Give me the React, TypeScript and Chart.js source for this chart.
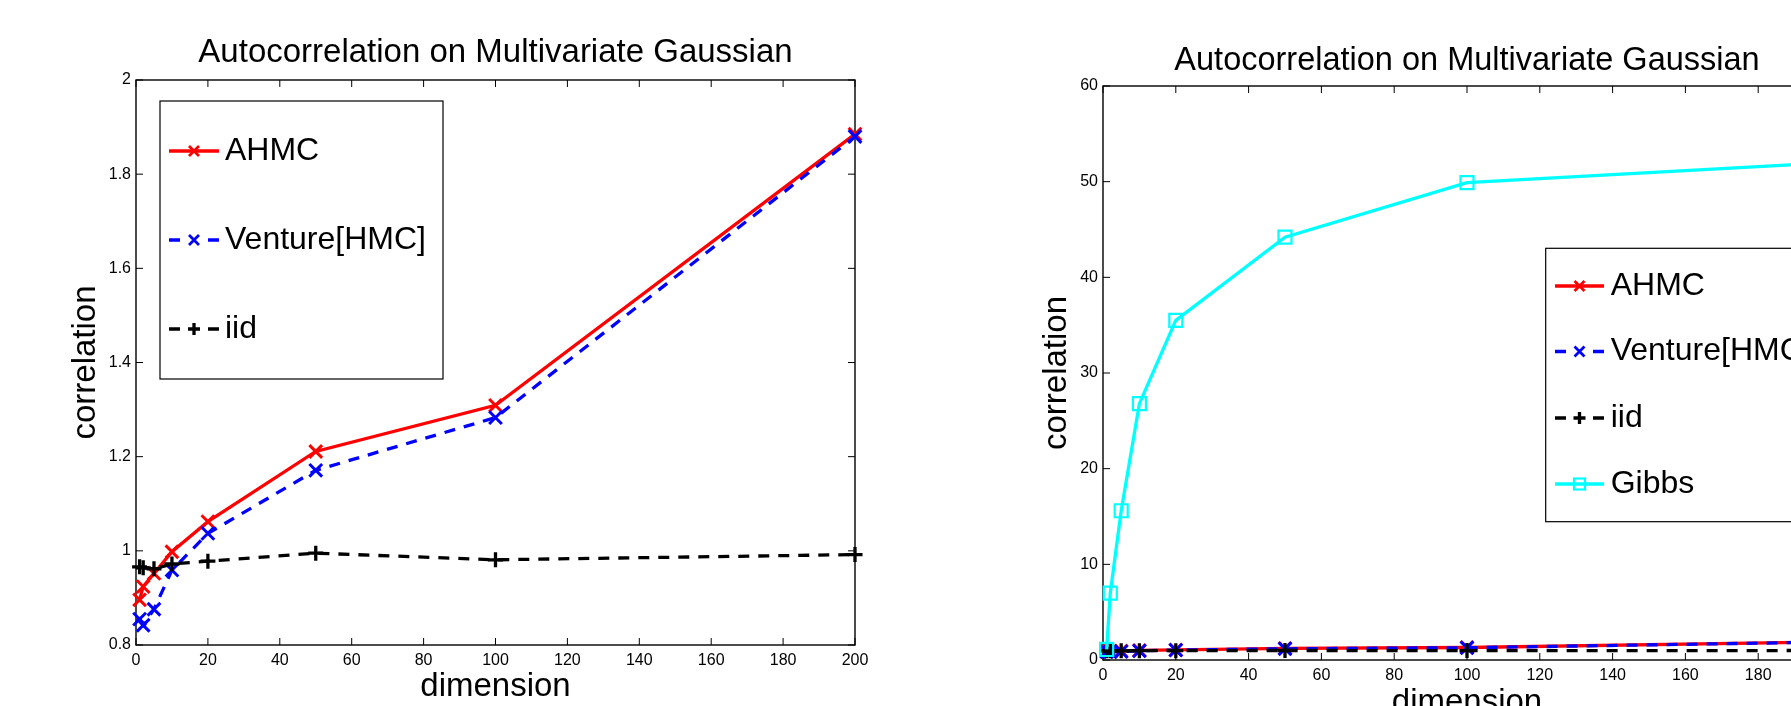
import React, { useEffect, useRef } from 'react';
import { Chart, registerables } from 'chart.js';

Chart.register(...registerables);

const FONT = '"Liberation Sans", Arial, Helvetica, sans-serif';

const dimensions = [1, 2, 5, 10, 20, 50, 100, 200];
const ahmcValues = [0.896, 0.924, 0.952, 0.998, 1.062, 1.211, 1.309, 1.885];
const ventureValues = [0.855, 0.842, 0.876, 0.959, 1.037, 1.171, 1.283, 1.88];
const iidValues = [0.966, 0.964, 0.962, 0.972, 0.978, 0.995, 0.981, 0.992];
const gibbsValues = [1.1, 7.0, 15.6, 26.8, 35.5, 44.2, 49.9, 52.0];

const xTickValues = [0, 20, 40, 60, 80, 100, 120, 140, 160, 180, 200];
const leftYTickValues = [0.8, 1, 1.2, 1.4, 1.6, 1.8, 2];
const rightYTickValues = [0, 10, 20, 30, 40, 50, 60];

const chartTitle = 'Autocorrelation on Multivariate Gaussian';
const xAxisLabel = 'dimension';
const yAxisLabel = 'correlation';
const seriesLabels = ['AHMC', 'Venture[HMC]', 'iid', 'Gibbs'];

const seriesStyles = [
  { color: '#ff0000', dash: [] as number[], marker: 'x' },
  { color: '#0000ff', dash: [11, 9], marker: 'x' },
  { color: '#000000', dash: [11, 9], marker: '+' },
  { color: '#00ffff', dash: [] as number[], marker: 's' },
];

function makeDataset(i: number, values: number[]) {
  const s = seriesStyles[i];
  const pointStyle = s.marker === 'x' ? 'crossRot' : s.marker === '+' ? 'cross' : 'rect';
  const radius = s.marker === 'x' ? 9 : s.marker === '+' ? 7.5 : 9.2;
  return {
    label: seriesLabels[i],
    data: dimensions.map((d, k) => ({ x: d, y: values[k] })),
    borderColor: s.color,
    backgroundColor: 'rgba(0,0,0,0)',
    borderWidth: 3.3,
    borderDash: s.dash,
    pointStyle,
    pointRadius: radius,
    pointHoverRadius: radius,
    pointBorderColor: s.color,
    pointBackgroundColor: 'rgba(0,0,0,0)',
    pointBorderWidth: s.marker === 's' ? 2.2 : s.marker === '+' ? 3.3 : 3,
    tension: 0,
    fill: false,
    clip: false as any,
    order: 10 - i,
  };
}

function drawMarker(ctx: CanvasRenderingContext2D, marker: string, x: number, y: number, color: string) {
  ctx.save();
  ctx.setLineDash([]);
  ctx.strokeStyle = color;
  ctx.beginPath();
  if (marker === 'x') {
    const h = 5;
    ctx.lineWidth = 2.8;
    ctx.moveTo(x - h, y - h); ctx.lineTo(x + h, y + h);
    ctx.moveTo(x - h, y + h); ctx.lineTo(x + h, y - h);
    ctx.stroke();
  } else if (marker === '+') {
    const h = 6;
    ctx.lineWidth = 3.3;
    ctx.moveTo(x - h, y); ctx.lineTo(x + h, y);
    ctx.moveTo(x, y - h); ctx.lineTo(x, y + h);
    ctx.stroke();
  } else {
    ctx.lineWidth = 2.2;
    ctx.strokeRect(x - 5.5, y - 5.5, 11, 11);
  }
  ctx.restore();
}

type LegendLayout = {
  left: number; top: number; width: number; height: number;
  rows: number[]; sampleX0: number; sampleX1: number; textX: number; fontSize: number;
};

function makeFramePlugin(titleSize: number, titleBaseline: number, legend: LegendLayout) {
  return {
    id: 'matlabFrame',
    beforeDatasetsDraw(chart: any) {
      const { ctx, chartArea: a } = chart;
      const xs = chart.scales.x;
      const ys = chart.scales.y;
      ctx.save();
      ctx.strokeStyle = '#000';
      ctx.lineWidth = 1.4;
      ctx.strokeRect(a.left, a.top, a.right - a.left, a.bottom - a.top);
      ctx.lineWidth = 1;
      const L = 7;
      ctx.beginPath();
      xs.ticks.forEach((t: any) => {
        const p = xs.getPixelForValue(t.value);
        ctx.moveTo(p, a.bottom); ctx.lineTo(p, a.bottom - L);
        ctx.moveTo(p, a.top); ctx.lineTo(p, a.top + L);
      });
      ys.ticks.forEach((t: any) => {
        const p = ys.getPixelForValue(t.value);
        ctx.moveTo(a.left, p); ctx.lineTo(a.left + L, p);
        ctx.moveTo(a.right, p); ctx.lineTo(a.right - L, p);
      });
      ctx.stroke();
      ctx.restore();
    },
    afterDraw(chart: any) {
      const { ctx, chartArea: a } = chart;
      ctx.save();
      // title
      ctx.fillStyle = '#000';
      ctx.font = `${titleSize}px ${FONT}`;
      ctx.textAlign = 'center';
      ctx.textBaseline = 'alphabetic';
      ctx.fillText(chartTitle, (a.left + a.right) / 2, titleBaseline);
      // legend
      ctx.fillStyle = '#fff';
      ctx.fillRect(legend.left, legend.top, legend.width, legend.height);
      ctx.strokeStyle = '#000';
      ctx.lineWidth = 1.2;
      ctx.strokeRect(legend.left, legend.top, legend.width, legend.height);
      legend.rows.forEach((cy, i) => {
        const s = seriesStyles[i];
        ctx.save();
        ctx.strokeStyle = s.color;
        ctx.lineWidth = 3.3;
        ctx.beginPath();
        if (s.dash.length) {
          ctx.moveTo(legend.sampleX0, cy); ctx.lineTo(legend.sampleX0 + 11, cy);
          ctx.moveTo(legend.sampleX1 - 11, cy); ctx.lineTo(legend.sampleX1, cy);
        } else {
          ctx.moveTo(legend.sampleX0, cy); ctx.lineTo(legend.sampleX1, cy);
        }
        ctx.stroke();
        ctx.restore();
        drawMarker(ctx, s.marker, (legend.sampleX0 + legend.sampleX1) / 2, cy, s.color);
        ctx.fillStyle = '#000';
        ctx.font = `${legend.fontSize}px ${FONT}`;
        ctx.textAlign = 'left';
        ctx.textBaseline = 'middle';
        ctx.fillText(seriesLabels[i], legend.textX, cy);
      });
      ctx.restore();
    },
  };
}

function makeScales(yTicks: number[], yAxisWidth: number, xAxisHeight: number, yTitlePad: number, xTitlePad: number) {
  const tickFont = { family: FONT, size: 16 };
  const titleFont = { family: FONT, size: 33, lineHeight: 1 };
  return {
    x: {
      type: 'linear' as const,
      min: xTickValues[0],
      max: xTickValues[xTickValues.length - 1],
      afterBuildTicks: (s: any) => { s.ticks = xTickValues.map((v) => ({ value: v })); },
      afterFit: (s: any) => { s.height = xAxisHeight; },
      grid: { display: false, drawTicks: false },
      border: { display: false },
      ticks: { autoSkip: false, maxRotation: 0, padding: 6, font: tickFont, color: '#000', callback: (v: any) => String(v) },
      title: { display: true, text: xAxisLabel, font: titleFont, color: '#000', padding: { top: 0, bottom: xTitlePad } },
    },
    y: {
      type: 'linear' as const,
      min: yTicks[0],
      max: yTicks[yTicks.length - 1],
      afterBuildTicks: (s: any) => { s.ticks = yTicks.map((v) => ({ value: v })); },
      afterFit: (s: any) => { s.width = yAxisWidth; },
      grid: { display: false, drawTicks: false },
      border: { display: false },
      ticks: { autoSkip: false, padding: 5, font: tickFont, color: '#000', callback: (v: any) => String(v) },
      title: { display: true, text: yAxisLabel, font: titleFont, color: '#000', padding: { top: yTitlePad, bottom: 0 } },
    },
  };
}

const commonOptions = {
  responsive: false,
  maintainAspectRatio: false,
  animation: false as const,
  devicePixelRatio: 1,
  events: [] as any[],
};

export default function App() {
  const leftRef = useRef<HTMLCanvasElement>(null);
  const rightRef = useRef<HTMLCanvasElement>(null);

  useEffect(() => {
    document.body.style.margin = '0';
    document.body.style.overflow = 'hidden';

    const left = new Chart(leftRef.current as HTMLCanvasElement, {
      type: 'line',
      data: {
        datasets: [
          makeDataset(0, ahmcValues),
          makeDataset(1, ventureValues),
          makeDataset(2, iidValues),
        ] as any,
      },
      options: {
        ...commonOptions,
        layout: { padding: { left: 0, right: 45, top: 80, bottom: 0 } },
        scales: makeScales(leftYTickValues, 136, 61, 69, 3) as any,
        plugins: { legend: { display: false }, title: { display: false }, tooltip: { enabled: false } },
      },
      plugins: [makeFramePlugin(33, 62, {
        left: 160, top: 101, width: 283, height: 278,
        rows: [151, 240, 329], sampleX0: 169, sampleX1: 219, textX: 225, fontSize: 32,
      })],
    });

    const right = new Chart(rightRef.current as HTMLCanvasElement, {
      type: 'line',
      data: {
        datasets: [
          makeDataset(0, ahmcValues),
          makeDataset(1, ventureValues),
          makeDataset(2, iidValues),
          makeDataset(3, gibbsValues),
        ] as any,
      },
      options: {
        ...commonOptions,
        layout: { padding: { left: 0, right: 20, top: 86, bottom: 0 } },
        scales: makeScales(rightYTickValues, 203, 70, 140, 10.5) as any,
        plugins: { legend: { display: false }, title: { display: false }, tooltip: { enabled: false } },
      },
      plugins: [makeFramePlugin(32.5, 69.5, {
        left: 645.7, top: 248.3, width: 283, height: 273.4,
        rows: [286, 351.5, 418, 484], sampleX0: 655, sampleX1: 704, textX: 710.7, fontSize: 32,
      })],
    });

    return () => {
      left.destroy();
      right.destroy();
    };
  }, []);

  return (
    <div style={{ position: 'relative', width: 1791, height: 706, overflow: 'hidden', background: '#fff' }}>
      <canvas ref={leftRef} width={900} height={706}
        style={{ position: 'absolute', left: 0, top: 0, width: 900, height: 706 }} />
      <canvas ref={rightRef} width={951} height={730}
        style={{ position: 'absolute', left: 900, top: 0, width: 951, height: 730 }} />
    </div>
  );
}
